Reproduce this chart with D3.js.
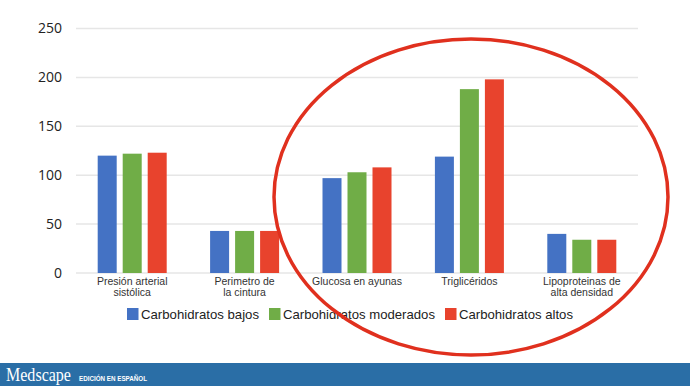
<!DOCTYPE html>
<html><head><meta charset="utf-8">
<script src="https://cdn.jsdelivr.net/npm/d3@7"></script>
<style>body{margin:0;background:#fff;}svg{display:block;}</style>
</head><body>
<script>
const categories = [["Presión arterial","sistólica"],["Perimetro de","la cintura"],["Glucosa en ayunas"],["Triglicéridos"],["Lipoproteinas de","alta densidad"]];
const seriesNames = ["Carbohidratos bajos","Carbohidratos moderados","Carbohidratos altos"];
const bajos = [120, 43, 97, 119, 40];
const moderados = [122, 43, 103, 188, 34];
const altos = [123, 43, 108, 198, 34];
const yTicks = [0, 50, 100, 150, 200, 250];
const colors = ["#4472c4","#70ad47","#e8432d"];

const W = 690, H = 386;
const svg = d3.select("body").append("svg").attr("width", W).attr("height", H);
const m = {l:76, r:52, t:28.5, b:113};
const x0 = d3.scaleBand().domain(d3.range(categories.length)).range([m.l, W - m.r]).paddingInner(0).paddingOuter(0);
const y = d3.scaleLinear().domain([0, 250]).range([273, 28.5]);

svg.append("g").selectAll("line").data(yTicks).join("line")
  .attr("x1", m.l).attr("x2", W - m.r)
  .attr("y1", d => y(d)).attr("y2", d => y(d))
  .attr("stroke", "#e6e6e6").attr("stroke-width", 1.5);

const yAxis = d3.axisLeft(y).tickValues(yTicks).tickSize(0).tickPadding(14);
const ga = svg.append("g").attr("transform", `translate(${m.l},0)`).call(yAxis);
ga.select(".domain").remove();
ga.selectAll("text").attr("font-family", "'Open Sans', 'Liberation Sans', Arial, sans-serif")
  .attr("font-size", 14).attr("fill", "#222");

const series = [bajos, moderados, altos];
const barW = 19, step = 25;
series.forEach((vals, si) => {
  svg.append("g").selectAll("rect").data(vals).join("rect")
    .attr("x", (d, i) => x0(i) + x0.bandwidth()/2 - barW/2 + (si - 1) * step)
    .attr("width", barW)
    .attr("y", d => y(d))
    .attr("height", d => y(0) - y(d))
    .attr("fill", colors[si]);
});

const cl = svg.append("g");
categories.forEach((lines, i) => {
  const t = cl.append("text").attr("x", x0(i) + x0.bandwidth()/2).attr("y", 285)
    .attr("text-anchor", "middle").attr("font-family", "'Liberation Sans', Arial, sans-serif")
    .attr("font-size", 10.5).attr("fill", "#333");
  lines.forEach((ln, k) => t.append("tspan").attr("x", x0(i) + x0.bandwidth()/2).attr("dy", k === 0 ? 0 : 11).text(ln));
});

const legX = [127, 269, 445];
const legLen = [118, 152, 114];
const lg = svg.append("g");
seriesNames.forEach((n, i) => {
  lg.append("rect").attr("x", legX[i]).attr("y", 308).attr("width", 11.5).attr("height", 12).attr("fill", colors[i]);
  lg.append("text").attr("x", legX[i] + 14).attr("y", 319).attr("font-family", "'Liberation Sans', Arial, sans-serif")
    .attr("font-size", 13.5).attr("fill", "#222").attr("textLength", legLen[i]).attr("lengthAdjust", "spacingAndGlyphs").text(n);
});

svg.append("ellipse").attr("cx", 471).attr("cy", 197).attr("rx", 197).attr("ry", 158)
  .attr("fill", "none").attr("stroke", "#e0301e").attr("stroke-width", 3.5);

svg.append("rect").attr("x", 0).attr("y", 363).attr("width", W).attr("height", H - 363).attr("fill", "#2a6ea6");
svg.append("text").attr("x", 6).attr("y", 381).attr("font-family", "'Liberation Serif', 'DejaVu Serif', serif")
  .attr("font-size", 19).attr("fill", "#fff").attr("textLength", 65).attr("lengthAdjust", "spacingAndGlyphs").text("Medscape");
svg.append("text").attr("x", 79).attr("y", 381).attr("font-family", "'Liberation Sans', Arial, sans-serif")
  .attr("font-size", 7).attr("font-weight", "bold").attr("fill", "#fff").attr("textLength", 68).attr("lengthAdjust", "spacingAndGlyphs").text("EDICIÓN EN ESPAÑOL");
</script>
</body></html>
